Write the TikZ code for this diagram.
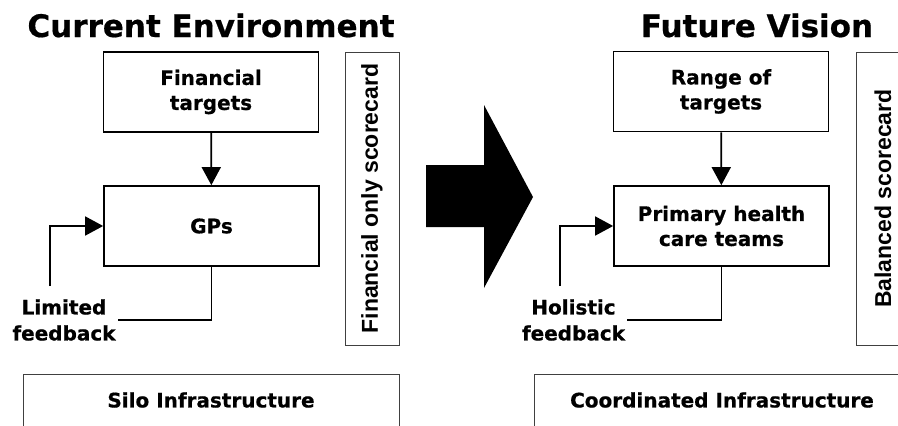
\documentclass[tikz,border=0pt]{standalone}
\usepackage{fontspec}
\setmainfont{DejaVu Sans}[BoldFeatures={FakeBold=0.6}]
\newfontfamily\cardfont{Liberation Sans}
\usetikzlibrary{arrows.meta}

\begin{document}
\begin{tikzpicture}[x=1pt,y=-1pt,
    title/.style={anchor=base, inner sep=0pt, font=\bfseries\fontsize{31}{36}\selectfont},
    target/.style={rectangle, draw, line width=1.7pt, minimum width=215pt, minimum height=80pt,
      align=center, font=\bfseries\fontsize{20}{25}\selectfont},
    fbtext/.style={align=center, inner sep=2pt, font=\bfseries\fontsize{20}{26}\selectfont},
    card/.style={rectangle, draw=black!75, line width=0.9pt, rotate=90, minimum width=293pt,
      minimum height=54pt, font=\cardfont\bfseries\fontsize{23}{26}\selectfont},
    infra/.style={rectangle, draw=black!75, line width=0.9pt, anchor=north, minimum width=376pt,
      inner ysep=0pt, text height=33pt, text depth=45pt, font=\bfseries\fontsize{20}{24}\selectfont},
    link/.style={line width=1.7pt, -{Triangle[width=19pt,length=18pt]}},
    fb/.style={line width=1.7pt}]
      \useasboundingbox (0,0) rectangle (898,426);

      % current environment
      \node at (211,37) [title] (now) {Current Environment};
      \node at (211,92) [target] (fin) {Financial\\targets};
      \node at (211.5,226) [target] (gps) {GPs};
      \node at (64,320) [fbtext] (limited) {Limited\\feedback};
      \node at (372,198.5) [card] (fincard) {Financial only scorecard};
      \node at (211,374) [infra] (silo) {Silo Infrastructure};
      \coordinate (limstart) at (50,286);

      \draw[link] (fin) -- (gps);
      \draw[fb] (gps.south) |- (limited.east);
      \draw[link] (limstart) |- (gps.west);

      % big arrow
      \fill (426,165) -- (484,165) -- (484,105) -- (533,197)
            -- (484,288) -- (484,227) -- (426,227) -- cycle;

      % future vision
      \node at (757,37) [title] (future) {Future Vision};
      \node at (721,91.5) [target] (range) {Range of\\targets};
      \node at (721.5,226) [target] (teams) {Primary health\\care teams};
      \node at (573.5,320) [fbtext] (holistic) {Holistic\\feedback};
      \node at (883,198.5) [card] (balcard) {Balanced scorecard};
      \node at (722,374) [infra] (coord) {Coordinated Infrastructure};
      \coordinate (holstart) at (560,286);

      \draw[link] (range) -- (teams);
      \draw[fb] (teams.south) |- (holistic.east);
      \draw[link] (holstart) |- (teams.west);
\end{tikzpicture}
\end{document}
